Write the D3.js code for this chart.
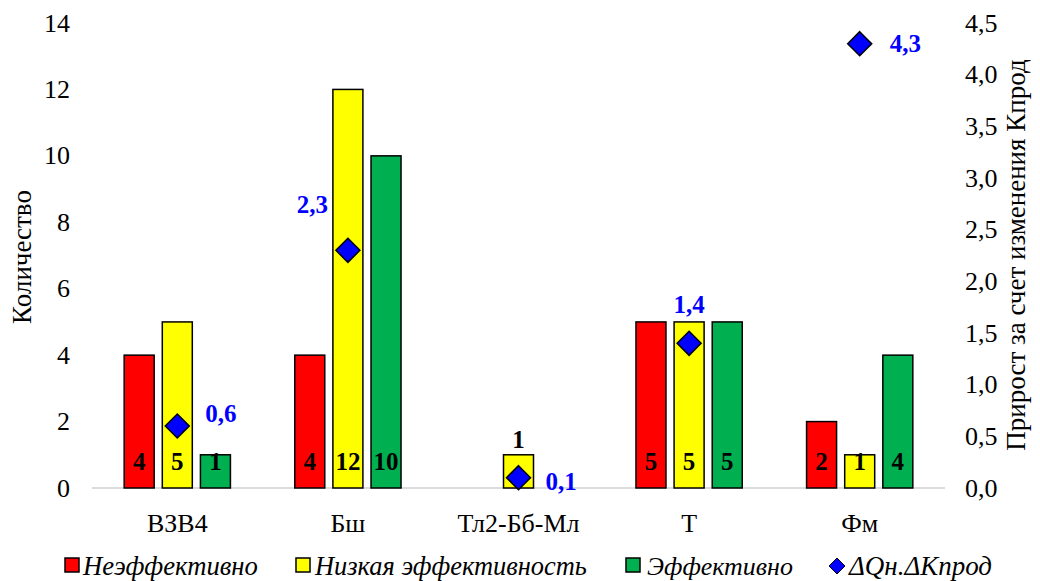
<!DOCTYPE html>
<html><head><meta charset="utf-8">
<script src="https://cdn.jsdelivr.net/npm/d3@7"></script>
<style>body{margin:0;background:#fff}svg{display:block}</style>
</head><body><svg id="c" width="1040" height="581"></svg>
<script>
const categories = ["ВЗВ4", "Бш", "Тл2-Бб-Мл", "Т", "Фм"];
const seriesNames = ["Неэффективно", "Низкая эффективность", "Эффективно"];
const ineffective = [4, 4, 0, 5, 2];
const lowEff = [5, 12, 1, 5, 1];
const effective = [1, 10, 0, 5, 4];
const deltaK = [0.6, 2.3, 0.1, 1.4, 4.3];
const deltaLabels = ["0,6", "2,3", "0,1", "1,4", "4,3"];
const leftTicks = [0, 2, 4, 6, 8, 10, 12, 14];
const rightTicks = [0, 0.5, 1, 1.5, 2, 2.5, 3, 3.5, 4, 4.5];
const colors = ["#ff0000", "#ffff00", "#00b050"];
const FONT = '"Liberation Serif", "Times New Roman", serif';

const svg = d3.select("#c");
const L = 92, R = 945, T = 23, B = 488;
const x = d3.scaleBand().domain(categories).range([L, R]);
const xs = d3.scaleBand().domain([0,1,2]).range([-53, 53]).paddingInner(0.22);
const y = d3.scaleLinear().domain([0, 14]).range([B, T]);
const y2 = d3.scaleLinear().domain([0, 4.5]).range([B, T]);

svg.append("line").attr("x1", L).attr("x2", R).attr("y1", B).attr("y2", B).attr("stroke", "#d0d0d0").attr("stroke-width", 1.5);

const series = [ineffective, lowEff, effective];
series.forEach((vals, si) => {
  const g = svg.append("g");
  categories.forEach((c, i) => {
    const v = vals[i];
    if (v <= 0) return;
    const cx = x(c) + x.bandwidth()/2 + xs(si) + xs.bandwidth()/2;
    const w = 30;
    g.append("rect").attr("x", cx - w/2).attr("y", y(v)).attr("width", w).attr("height", B - y(v))
      .attr("fill", colors[si]).attr("stroke", "#000").attr("stroke-width", 1.5);
    const ly = (c === "Тл2-Бб-Мл") ? y(v) - 7 : 470;
    g.append("text").attr("x", cx).attr("y", ly).attr("text-anchor", "middle")
      .attr("font-size", 25).attr("font-weight", "bold").text(v);
  });
});

const ya = svg.append("g");
leftTicks.forEach(t => {
  ya.append("text").attr("x", 70).attr("y", y(t)).attr("dy", "0.33em").attr("text-anchor", "end")
    .attr("font-size", 26).text(t);
});
const yb = svg.append("g");
rightTicks.forEach(t => {
  yb.append("text").attr("x", 965).attr("y", y2(t)).attr("dy", "0.33em").attr("text-anchor", "start")
    .attr("font-size", 26).text(d3.format(".1f")(t).replace(".", ","));
});
svg.append("text").attr("transform", "translate(31,257) rotate(-90)").attr("text-anchor", "middle")
  .attr("font-size", 27).text("Количество");
svg.append("text").attr("transform", "translate(1025,255) rotate(-90)").attr("text-anchor", "middle")
  .attr("font-size", 27).text("Прирост за счет изменения Кпрод");

categories.forEach(c => {
  svg.append("text").attr("x", x(c) + x.bandwidth()/2).attr("y", 532).attr("text-anchor", "middle")
    .attr("font-size", 26).text(c);
});

const lblOff = [[28, -12, "start"], [-20, -46, "end"], [27, 4, "start"], [0, -39, "middle"], [30, 0, "start"]];
categories.forEach((c, i) => {
  const cx = x(c) + x.bandwidth()/2;
  const cy = y2(deltaK[i]);
  svg.append("path").attr("d", `M${cx},${cy-12}L${cx+12},${cy}L${cx},${cy+12}L${cx-12},${cy}Z`)
    .attr("fill", "#0000ff").attr("stroke", "#000").attr("stroke-width", 1.5);
  svg.append("text").attr("x", cx + lblOff[i][0]).attr("y", cy + lblOff[i][1]).attr("dy", "0.33em")
    .attr("text-anchor", lblOff[i][2]).attr("font-size", 25).attr("font-weight", "bold").attr("fill", "#0000ff")
    .text(deltaLabels[i]);
});

svg.selectAll("text").style("font-family", FONT);

// legend
const lg = svg.append("g");
const sqX = [65, 296, 626];
const txX = [83, 315, 647, 849];
const txW = [175, 272, 146, 143];
function fitText(t, w) {
  t.style("font-family", FONT).attr("font-style", "italic").attr("font-size", 24);
  const len = t.node().getComputedTextLength();
  if (len > 0) t.attr("font-size", 24 * w / len);
}
seriesNames.forEach((n, i) => {
  lg.append("rect").attr("x", sqX[i]).attr("y", 558).attr("width", 14).attr("height", 14)
    .attr("fill", colors[i]).attr("stroke", "#000").attr("stroke-width", 1.5);
  const t = lg.append("text").attr("x", txX[i]).attr("y", 566).attr("dy", "0.33em").text(n);
  fitText(t, txW[i]);
});
{
  const cx = 837, cy = 566;
  lg.append("path").attr("d", `M${cx},${cy-8}L${cx+8},${cy}L${cx},${cy+8}L${cx-8},${cy}Z`)
    .attr("fill", "#0000ff").attr("stroke", "#000").attr("stroke-width", 1);
  const t = lg.append("text").attr("x", txX[3]).attr("y", 566).attr("dy", "0.33em").text("ΔQн.ΔКпрод");
  fitText(t, txW[3]);
}
</script></body></html>
